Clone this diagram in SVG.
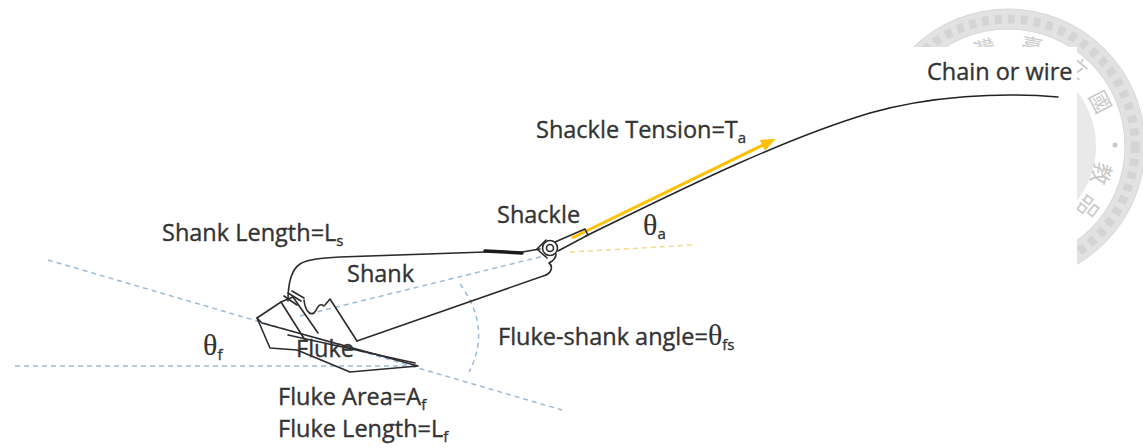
<svg xmlns="http://www.w3.org/2000/svg" width="1143" height="448" viewBox="0 0 1143 448">
  <style>
    .lbl { font-family: "Open Sans", "Liberation Sans", sans-serif; font-size: 23.5px; fill: #333; stroke: #333; stroke-width: 0.35; }
    .sub { font-size: 15px; }
    .th { font-family: "Liberation Serif", "DejaVu Serif", serif; font-size: 30px; stroke-width: 0.1; }
    .ink { fill: none; stroke: #2b2b2b; stroke-width: 1.6; stroke-linejoin: round; stroke-linecap: round; }
    .guide { fill: none; stroke: #9cbadb; stroke-width: 1.5; stroke-dasharray: 5 4; }
    .guide-y { fill: none; stroke: #f3d98f; stroke-width: 1.5; stroke-dasharray: 5 4; }
    .seal-char { font-family: "Noto Sans CJK TC", "Noto Sans CJK SC", sans-serif; font-size: 22px; fill: #c9c9c9; text-anchor: middle; dominant-baseline: central; }
  </style>
  <defs>
    <marker id="arrowY" markerUnits="userSpaceOnUse" markerWidth="16" markerHeight="12" refX="3" refY="6" orient="auto">
      <path d="M0,0 L15,6 L0,12 Z" fill="#ffc000"/>
    </marker>
  </defs>

  <rect width="1143" height="448" fill="#ffffff"/>

  <!-- faint seal in the upper right corner -->
  <g id="seal">
    <circle cx="1008" cy="146" r="88" fill="#e9e9e9"/>
    <circle cx="1008" cy="146" r="127" fill="none" stroke="#e2e2e2" stroke-width="20"/>
    <circle cx="1008" cy="146" r="127" fill="none" stroke="#d4d4d4" stroke-width="9" stroke-dasharray="7 6"/>
    <circle cx="1008" cy="146" r="117" fill="none" stroke="#d8d8d8" stroke-width="1"/>
    <circle cx="1008" cy="146" r="137" fill="none" stroke="#d8d8d8" stroke-width="1"/>
    <text class="seal-char" transform="translate(984,47) rotate(-16)">灣</text>
    <text class="seal-char" transform="translate(1032,45) rotate(11)">臺</text>
    <text class="seal-char" transform="translate(1078,66) rotate(40)">立</text>
    <text class="seal-char" transform="translate(1102,101) rotate(63)">國</text>
    <circle cx="1115" cy="145" r="2.5" fill="#c9c9c9"/>
    <text class="seal-char" transform="translate(1103,174) rotate(106)">教</text>
    <text class="seal-char" transform="translate(1090,208) rotate(127)">品</text>
  </g>
  <rect x="0" y="47" width="1077" height="401" fill="#ffffff"/>

  <!-- guide lines, chain and tension arrow -->
  <g id="connectors">
    <path class="guide" d="M48,260 L562,410"/>
    <path class="guide" d="M15,366 L418,366"/>
    <path class="guide" d="M300,316 L548,255"/>
    <path class="guide" d="M460,284 Q492,328 469,372"/>
    <path class="guide-y" d="M570,252 L693,245"/>
    <path id="chain" d="M586,236 C680,190 780,140 870,113 C930,96 1000,92 1058,97" fill="none" stroke="#222" stroke-width="1.6" stroke-linecap="round"/>
    <path id="tension" d="M572,238 L765,144" fill="none" stroke="#ffc000" stroke-width="3" marker-end="url(#arrowY)"/>
  </g>

  <!-- fluke plate and crown -->
  <g id="fluke">
    <path class="ink" d="M257,318 L270,348 L297,350 L350,372 L418,366 L262,323 Z"/>
    <path class="ink" d="M288,335 L415,363"/>
    <path class="ink" d="M257,318 L281,302 L293,297"/>
    <path class="ink" d="M281,302 L305,340"/>
    <path class="ink" d="M293,297 L318,333"/>
    <path class="ink" d="M284,296 L297,305 M288,293 L301,301 M292,291 L304,298"/>
    <path class="ink" d="M304,300 C305,309 309,316 314,313 C318,309 318,302 324,306"/>
    <path class="ink" d="M325,305 L330,299 L357,341"/>
    <text class="lbl" x="296" y="357">Fluke</text>
  </g>

  <!-- shank -->
  <g id="shank">
    <path class="ink" d="M288,301 C288,284 291,270 300,264 C308,259 322,258 340,257 L485,252"/>
    <path d="M485,251 L522,253" fill="none" stroke="#1a1a1a" stroke-width="3.5" stroke-linecap="round"/>
    <path class="ink" d="M522,252 L540,249"/>
    <path class="ink" d="M357,341 L546,275"/>
    <text class="lbl" x="347" y="282">Shank</text>
  </g>

  <!-- shackle -->
  <g id="shackle">
    <path class="ink" d="M555,242 L585,229 L588,235 L558,251" fill="#fff"/>
    <path class="ink" d="M537,249 L546,240 M537,249 L547,258"/>
    <circle class="ink" cx="550" cy="248" r="7.5" fill="#fff"/>
    <circle class="ink" cx="550" cy="248" r="3.5"/>
    <path class="ink" d="M546,275 C552,272 553,266 549,263 C553,261 556,258 556,254"/>
    <text class="lbl" x="497" y="223">Shackle</text>
  </g>

  <!-- labels -->
  <g id="labels">
    <text class="lbl" x="927" y="80">Chain or wire</text>
    <text class="lbl" x="536" y="138">Shackle Tension=T<tspan class="sub" dy="5">a</tspan></text>
    <text class="lbl" x="643" y="235"><tspan class="th">θ</tspan><tspan class="sub" dy="4">a</tspan></text>
    <text class="lbl" x="162" y="241">Shank Length=L<tspan class="sub" dy="5">s</tspan></text>
    <text class="lbl" x="203" y="355"><tspan class="th">θ</tspan><tspan class="sub" dy="5">f</tspan></text>
    <text class="lbl" x="498" y="345">Fluke-shank angle=<tspan class="th">θ</tspan><tspan class="sub" dy="5">fs</tspan></text>
    <text class="lbl" x="278" y="405">Fluke Area=A<tspan class="sub" dy="5">f</tspan></text>
    <text class="lbl" x="278" y="437">Fluke Length=L<tspan class="sub" dy="5">f</tspan></text>
  </g>
</svg>
